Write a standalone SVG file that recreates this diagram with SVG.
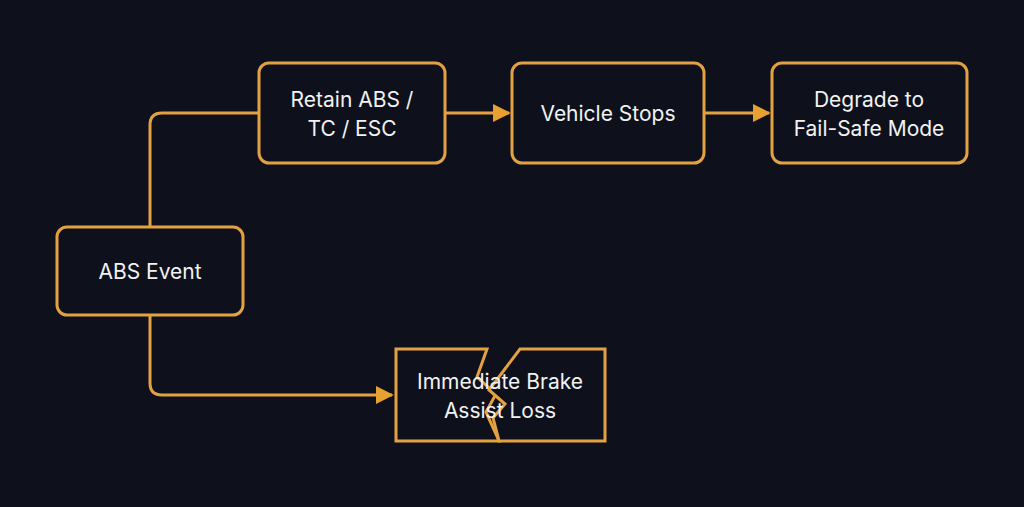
<svg xmlns="http://www.w3.org/2000/svg" width="1024" height="507" viewBox="0 0 1024 507">
<defs>
<style>
.n{fill:#0e111c;stroke:#e3a141;stroke-width:3}
.t{font-family:"Inter","Liberation Sans",sans-serif;font-size:21px;fill:#f2f2f2;text-anchor:middle}
.c{fill:none;stroke:#e3a141;stroke-width:3}
</style>
<marker id="a" viewBox="0 0 10 10" refX="9" refY="5" markerWidth="6" markerHeight="6" orient="auto" markerUnits="strokeWidth"><path d="M0,0L10,5L0,10z" fill="#e8a030"/></marker>
</defs>
<rect width="1024" height="507" fill="#0e111c"/>
<g id="connectors">
<path class="c" d="M150,227V125Q150,113 162,113H259"/>
<path class="c" d="M445,113H509" marker-end="url(#a)"/>
<path class="c" d="M705,113H769" marker-end="url(#a)"/>
<path class="c" d="M150,316V383Q150,395 162,395H392" marker-end="url(#a)"/>
</g>
<g id="abs"><rect class="n" x="57" y="227" width="186" height="88" rx="10"/><text class="t" x="150" y="279">ABS Event</text></g>
<g id="retain"><rect class="n" x="259" y="63" width="186" height="100" rx="10"/><text class="t" x="352" y="107">Retain ABS /</text><text class="t" x="352" y="136">TC / ESC</text></g>
<g id="stops"><rect class="n" x="512" y="63" width="192" height="100" rx="10"/><text class="t" x="608" y="121">Vehicle Stops</text></g>
<g id="degrade"><rect class="n" x="772" y="63" width="195" height="100" rx="10"/><text class="t" x="869" y="107">Degrade to</text><text class="t" x="869" y="136">Fail-Safe Mode</text></g>
<g id="loss">
<path class="n" d="M396,349H487L477,377L496,394L486,412L499,441H396Z"/>
<path class="n" d="M520,349H605V441H499L493,418L505,404L489,390Z"/>
<text class="t" x="500" y="389">Immediate Brake</text><text class="t" x="500" y="418">Assist Loss</text>
</g>
</svg>
